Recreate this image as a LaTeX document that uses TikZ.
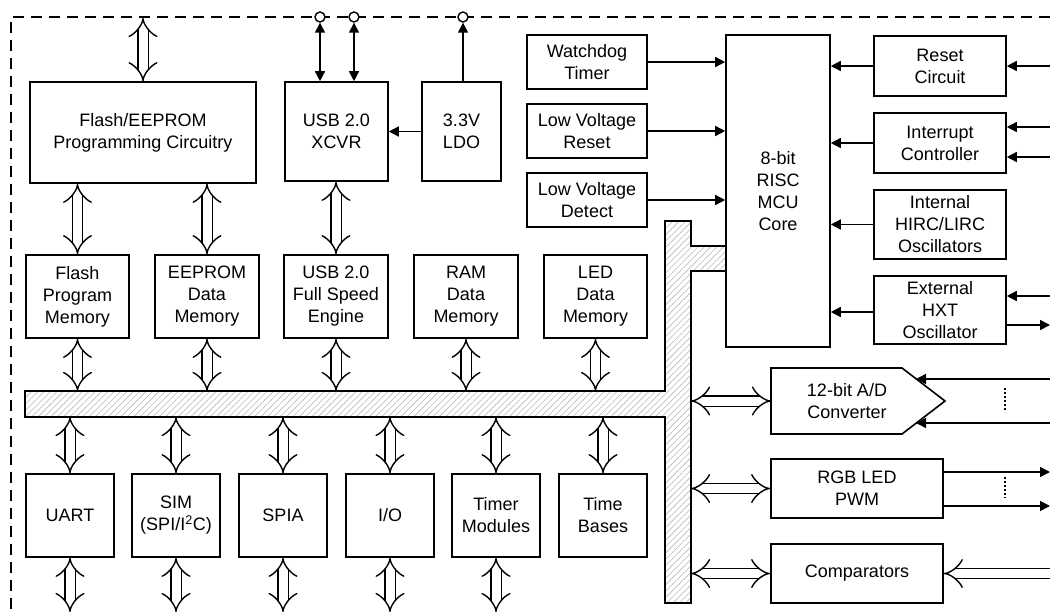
\documentclass[tikz,border=0pt]{standalone}
\usepackage{fontspec}
\setmainfont{Liberation Sans}
\usetikzlibrary{arrows.meta,patterns.meta}
\begin{document}
\begin{tikzpicture}[x=1pt,y=-1pt,
  box/.style={draw, line width=1.6pt, align=center, inner sep=0pt, font=\fontsize{18}{22}\selectfont},
  txt/.style={align=center, inner sep=0pt, font=\fontsize{18}{22}\selectfont},
  sig/.style={line width=1.5pt, -{Triangle[length=10pt,width=10pt]}},
  sigb/.style={line width=1.5pt, {Triangle[length=10pt,width=10pt]}-{Triangle[length=10pt,width=10pt]}},
  fat/.style={double, double distance=9pt, line width=1.4pt, {Implies[length=7pt,width=24pt]}-{Implies[length=7pt,width=24pt]}},
  fatin/.style={double, double distance=9pt, line width=1.4pt, {Implies[length=7pt,width=24pt]}-},
  pin/.style={circle, draw, fill=white, line width=1.4pt, minimum size=10pt, inner sep=0pt},
  border/.style={line width=1.4pt, dash pattern=on 11pt off 7pt},
  dots/.style={line width=1.3pt, dash pattern=on 2pt off 2pt},
]
\useasboundingbox (0,0) rectangle (1050,614);

% dashed chip border
\draw[border] (1050,17) -- (11,17) -- (11,614);

% internal bus
\path[preaction={fill=white}, pattern={Lines[angle=45,distance=4.5pt,line width=0.6pt]}, pattern color=gray!55, draw, line width=1.6pt]
  (25,391) -- (665,391) -- (665,221) -- (691,221) -- (691,246) -- (726,246) -- (726,271) -- (691,271)
  -- (691,603) -- (665,603) -- (665,417) -- (25,417) -- cycle;
\coordinate (bustop) at (0,391);
\coordinate (busbot) at (0,417);
\coordinate (busR) at (691,0);

% top row
\node[box, minimum width=226pt, minimum height=101pt] (fpc) at (143,132.5) {Flash/EEPROM\\Programming Circuitry};
\node[box, minimum width=103pt, minimum height=99pt] (xcvr) at (336.5,131.5) {USB 2.0\\XCVR};
\node[box, minimum width=79pt, minimum height=99pt] (ldo) at (461.5,131.5) {3.3V\\LDO};

% pins
\node[pin] (p1) at (320,17) {};
\node[pin] (p2) at (354,17) {};
\node[pin] (p3) at (463,17) {};
\coordinate (topedge) at (0,18);

% left column of core peripherals
\node[box, minimum width=120pt, minimum height=54pt] (wdt) at (587,62) {Watchdog\\Timer};
\node[box, minimum width=120pt, minimum height=54pt] (lvr) at (587,131) {Low Voltage\\Reset};
\node[box, minimum width=120pt, minimum height=54pt] (lvd) at (587,200) {Low Voltage\\Detect};

% MCU core
\node[box, minimum width=104pt, minimum height=312pt] (mcu) at (778,191) {8-bit\\RISC\\MCU\\Core};

% right column
\node[box, minimum width=132pt, minimum height=60pt] (rst) at (940,66) {Reset\\Circuit};
\node[box, minimum width=132pt, minimum height=60pt] (intc) at (940,143) {Interrupt\\Controller};
\node[box, minimum width=132pt, minimum height=69pt] (hirc) at (940,224.5) {Internal\\HIRC/LIRC\\Oscillators};
\node[box, minimum width=132pt, minimum height=68pt] (hxt) at (940,310) {External\\HXT\\Oscillator};

% memory row
\node[box, minimum width=103.5pt, minimum height=83pt] (fpm) at (77.5,296.5) {Flash\\Program\\Memory};
\node[box, minimum width=103.5pt, minimum height=83pt] (edm) at (207,296.5) {EEPROM\\Data\\Memory};
\node[box, minimum width=103.5pt, minimum height=83pt] (usbe) at (336,296.5) {USB 2.0\\Full Speed\\Engine};
\node[box, minimum width=103.5pt, minimum height=83pt] (ram) at (466,296.5) {RAM\\Data\\Memory};
\node[box, minimum width=103.5pt, minimum height=83pt] (led) at (595.5,296.5) {LED\\Data\\Memory};

% bottom row
\node[box, minimum width=88pt, minimum height=83pt] (uart) at (70,515.5) {UART};
\node[box, minimum width=88pt, minimum height=83pt] (sim) at (176,515.5) {SIM\\(SPI/I\textsuperscript{2}C)};
\node[box, minimum width=88pt, minimum height=83pt] (spia) at (283,515.5) {SPIA};
\node[box, minimum width=88pt, minimum height=83pt] (io) at (390,515.5) {I/O};
\node[box, minimum width=88pt, minimum height=83pt] (tmr) at (496,515.5) {Timer\\Modules};
\node[box, minimum width=88pt, minimum height=83pt] (tb) at (603,515.5) {Time\\Bases};
\coordinate (botedge) at (0,612);

% analog blocks
\coordinate (adcNW) at (771,368);
\coordinate (adcNE) at (902,368);
\coordinate (adcE) at (945,401);
\coordinate (adcSE) at (902,434);
\coordinate (adcSW) at (771,434);
\coordinate (adcW) at (771,401);
\draw[line width=1.6pt] (adcNW) -- (adcNE) -- (adcE) -- (adcSE) -- (adcSW) -- cycle;
\node[txt] (adc) at (847,401) {12-bit A/D\\Converter};
\node[box, minimum width=172pt, minimum height=59pt] (pwm) at (857,488.5) {RGB LED\\PWM};
\node[box, minimum width=172pt, minimum height=59pt] (cmp) at (857,573.5) {Comparators};

% --- connectors ---
\draw[fat] (fpc.north) -- (fpc.north |- topedge);
\draw[sigb] (xcvr.north -| p1) -- (p1.south);
\draw[sigb] (xcvr.north -| p2) -- (p2.south);
\draw[sig] (ldo.north -| p3) -- (p3.south);
\draw[sig] (ldo.west) -- (xcvr.east);

\draw[fat] (fpc.south -| fpm) -- (fpm.north);
\draw[fat] (fpc.south -| edm) -- (edm.north);
\draw[fat] (xcvr.south -| usbe) -- (usbe.north);

\foreach \m in {fpm,edm,usbe,ram,led}
  \draw[fat] (\m.south) -- (\m.south |- bustop);
\foreach \m in {uart,sim,spia,io,tmr,tb}
  \draw[fat] (\m.north |- busbot) -- (\m.north);
\foreach \m in {uart,sim,spia,io,tmr}
  \draw[fat] (\m.south) -- (\m.south |- botedge);

\draw[sig] (wdt.east) -- (wdt.east -| mcu.west);
\draw[sig] (lvr.east) -- (lvr.east -| mcu.west);
\draw[sig] (lvd.east) -- (lvd.east -| mcu.west);

\draw[sig] (rst.west) -- (rst.west -| mcu.east);
\draw[sig] (intc.west) -- (intc.west -| mcu.east);
\draw[sig] (hirc.west) -- (hirc.west -| mcu.east);
\coordinate (hxtm) at (874,312);
\draw[sig] (hxtm) -- (hxtm -| mcu.east);

\coordinate (r1) at (1050,66);
\coordinate (r2) at (1050,127);
\coordinate (r3) at (1050,157);
\coordinate (r4) at (1050,296);
\coordinate (r5) at (1050,325);
\draw[sig] (r1) -- (r1 -| rst.east);
\draw[sig] (r2) -- (r2 -| intc.east);
\draw[sig] (r3) -- (r3 -| intc.east);
\draw[sig] (r4) -- (r4 -| hxt.east);
\draw[sig] (r5 -| hxt.east) -- (r5);

\draw[fat] (adcW -| busR) -- (adcW);
\draw[fat] (pwm.west -| busR) -- (pwm.west);
\draw[fat] (cmp.west -| busR) -- (cmp.west);

\coordinate (a1) at (1050,379);
\coordinate (a2) at (1050,423);
\coordinate (a1e) at (916,379);
\coordinate (a2e) at (916,423);
\draw[sig] (a1) -- (a1e);
\draw[sig] (a2) -- (a2e);
\draw[dots] (1005,388) -- (1005,411);

\coordinate (o1) at (1050,472);
\coordinate (o2) at (1050,506);
\draw[sig] (o1 -| pwm.east) -- (o1);
\draw[sig] (o2 -| pwm.east) -- (o2);
\draw[dots] (1005,477) -- (1005,498);

\coordinate (c1) at (1050,573.5);
\draw[fatin] (cmp.east) -- (c1);
\end{tikzpicture}
\end{document}
